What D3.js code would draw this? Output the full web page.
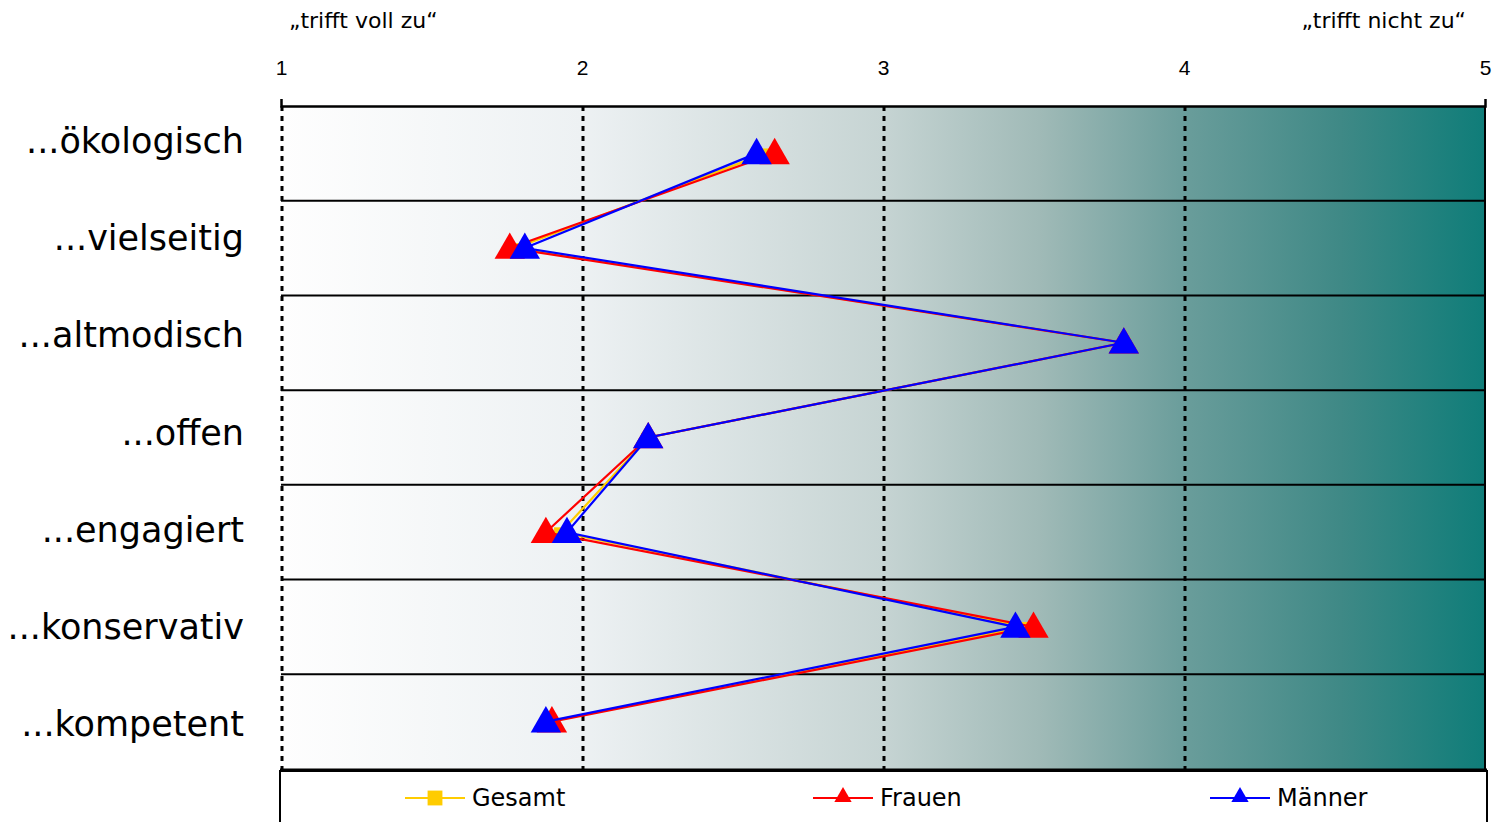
<!DOCTYPE html>
<html>
<head>
<meta charset="utf-8">
<script src="https://cdn.jsdelivr.net/npm/d3@7"></script>
<style>
  body { margin: 0; background: #fff; }
  svg { display: block; }
  .tick text { font-family: "Liberation Sans", Arial, sans-serif; font-size: 21px; fill: #000; }
</style>
</head>
<body>
<div id="chart"></div>
<script>
// categories (rows) and series values
var categories = ["...ökologisch", "...vielseitig", "...altmodisch", "...offen", "...engagiert", "...konservativ", "...kompetent"];
var gesamt = [2.61, 1.78, 3.80, 2.22, 1.93, 3.47, 1.89];
var frauen = [2.64, 1.76, 3.80, 2.22, 1.88, 3.50, 1.90];
var maenner = [2.58, 1.81, 3.80, 2.22, 1.95, 3.44, 1.88];
var tickValues = [1, 2, 3, 4, 5];
var seriesNames = ["Gesamt", "Frauen", "Männer"];
var seriesColors = ["#ffcc00", "#ff0000", "#0000ff"];

var W = 1503, H = 822;
var margin = {top: 106, right: 18, bottom: 53, left: 281};
var width = W - margin.left - margin.right,
    height = H - margin.top - margin.bottom;

var svg = d3.select("#chart").append("svg")
    .attr("width", W)
    .attr("height", H);

// background gradient
var defs = svg.append("defs");
var grad = defs.append("linearGradient")
    .attr("id", "bg")
    .attr("x1", "0%").attr("x2", "100%").attr("y1", "0%").attr("y2", "0%");
[[0, "#fefefe"], [0.25, "#edf1f3"], [0.5, "#c6d4d3"], [0.63, "#a0bab7"], [0.75, "#6a9d9b"], [0.88, "#3f8986"], [1, "#0f7d79"]]
  .forEach(function(s) {
    grad.append("stop").attr("offset", s[0]).attr("stop-color", s[1]);
  });

var g = svg.append("g")
    .attr("transform", "translate(" + margin.left + "," + margin.top + ")");

var x = d3.scaleLinear().domain([1, 5]).range([0, width]);
var y = d3.scaleBand().domain(categories).range([0, height]);
// the row labels sit on a slightly wider spacing than the rows
var yLabel = d3.scalePoint().domain(categories).range([37, 620]);

g.append("rect")
    .attr("width", width)
    .attr("height", height)
    .attr("fill", "url(#bg)");

// dotted vertical lines
g.selectAll(".vgrid")
  .data(tickValues.slice(0, 4))
  .enter()
  .append("line")
    .attr("x1", d => x(d) + 1)
    .attr("x2", d => x(d) + 1)
    .attr("y1", 0)
    .attr("y2", height)
    .attr("stroke", "#000")
    .attr("stroke-width", 3)
    .attr("stroke-dasharray", "5,5");

// row separators
g.selectAll(".hgrid")
  .data(categories.slice(1))
  .enter()
  .append("line")
    .attr("x1", 0)
    .attr("x2", width)
    .attr("y1", d => y(d))
    .attr("y2", d => y(d))
    .attr("stroke", "#000")
    .attr("stroke-width", 2);

// right border + thick bottom
g.append("line")
    .attr("x1", width).attr("x2", width)
    .attr("y1", 0).attr("y2", height)
    .attr("stroke", "#000").attr("stroke-width", 2);
g.append("line")
    .attr("x1", -1).attr("x2", width + 2)
    .attr("y1", height + 1).attr("y2", height + 1)
    .attr("stroke", "#000").attr("stroke-width", 3);

// top axis
var xAxis = g.append("g")
    .call(d3.axisTop(x).tickValues(tickValues).tickFormat(d3.format("d"))
      .tickSizeInner(0).tickSizeOuter(7).tickPadding(31));
xAxis.select(".domain").attr("stroke-width", 2.5);

// category labels
g.selectAll(".cat")
  .data(categories)
  .enter()
  .append("text")
    .attr("x", -37)
    .attr("y", d => yLabel(d))
    .attr("text-anchor", "end")
    .attr("dominant-baseline", "middle")
    .style("font-family", "DejaVu Sans, Verdana, sans-serif")
    .style("font-size", "35px")
    .style("fill", "#000")
    .text(d => d);

// scale end labels
svg.append("text")
    .attr("x", 289).attr("y", 28)
    .style("font-family", "DejaVu Sans, Verdana, sans-serif")
    .style("font-size", "22px")
    .text("\u201Etrifft voll zu\u201C");
svg.append("text")
    .attr("x", 1466).attr("y", 28)
    .attr("text-anchor", "end")
    .style("font-family", "DejaVu Sans, Verdana, sans-serif")
    .style("font-size", "22px")
    .text("\u201Etrifft nicht zu\u201C");

var series = [gesamt, frauen, maenner];
var line = d3.line()
    .x(d => x(d.v))
    .y(d => y(d.c) + y.bandwidth() / 2);
var tri = d3.symbol().type(d3.symbolTriangle).size(400);
var sq = d3.symbol().type(d3.symbolSquare).size(190);

series.forEach(function(vals, i) {
  var pts = vals.map((v, j) => ({c: categories[j], v: v}));
  g.append("path")
    .datum(pts)
    .attr("fill", "none")
    .attr("stroke", seriesColors[i])
    .attr("stroke-width", 2.2)
    .attr("d", line);
  g.selectAll(".m" + i)
    .data(pts)
    .enter()
    .append("path")
      .attr("transform", d => "translate(" + x(d.v) + "," + (y(d.c) + y.bandwidth() / 2 + 2) + ")")
      .attr("d", i === 0 ? sq : tri)
      .attr("fill", seriesColors[i]);
});

// legend
var lg = svg.append("g");
lg.append("rect")
    .attr("x", 280).attr("y", 771)
    .attr("width", 1207).attr("height", 60)
    .attr("fill", "#fff")
    .attr("stroke", "#000")
    .attr("stroke-width", 2);
var legX = [435, 843, 1240];
seriesNames.forEach(function(name, i) {
  var cx = legX[i], cy = 798;
  lg.append("line")
    .attr("x1", cx - 30).attr("x2", cx + 30)
    .attr("y1", cy).attr("y2", cy)
    .attr("stroke", seriesColors[i]).attr("stroke-width", 2);
  lg.append("path")
    .attr("transform", "translate(" + cx + "," + (i === 0 ? cy : cy - 1) + ")")
    .attr("d", i === 0 ? d3.symbol().type(d3.symbolSquare).size(220) : d3.symbol().type(d3.symbolTriangle).size(130))
    .attr("fill", seriesColors[i]);
  lg.append("text")
    .attr("x", cx + 37).attr("y", cy + 8)
    .style("font-family", "DejaVu Sans, Verdana, sans-serif")
    .style("font-size", "24px")
    .text(name);
});
</script>
</body>
</html>
